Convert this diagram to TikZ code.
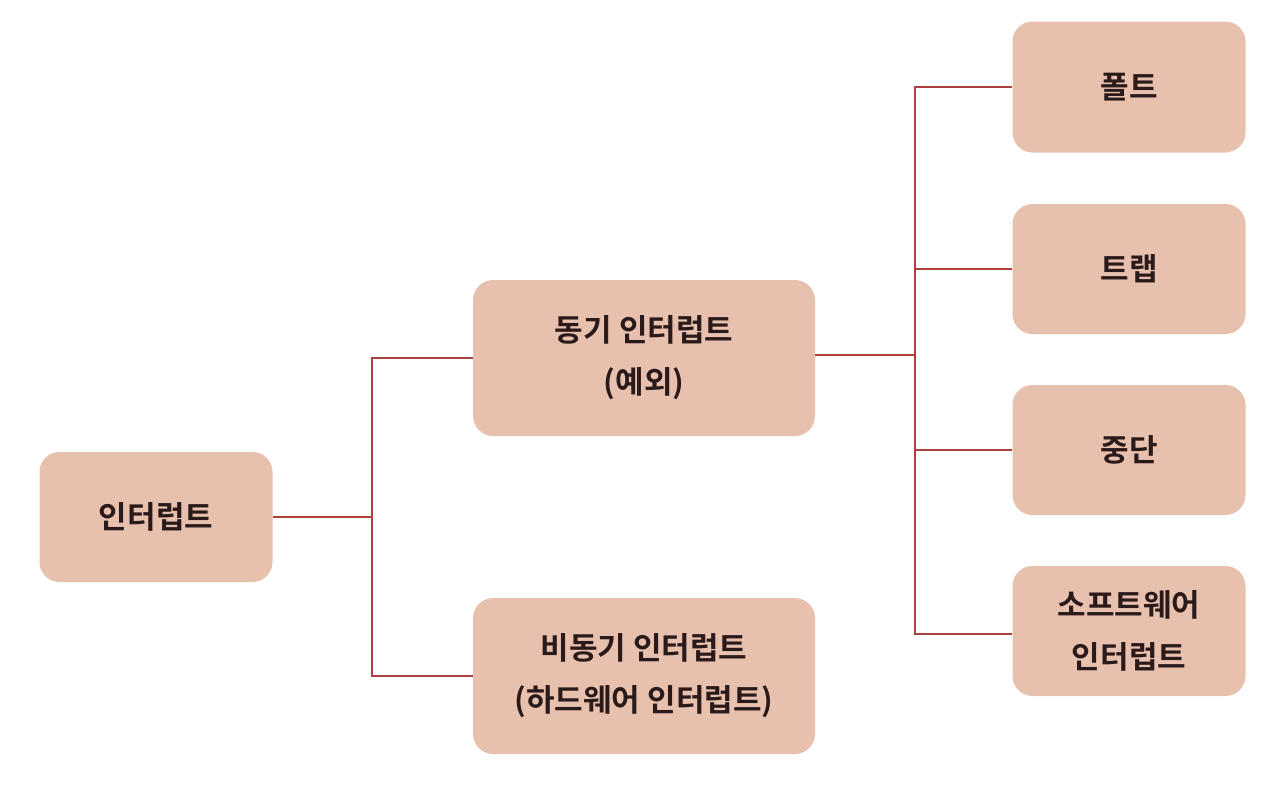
\documentclass[tikz,border=0pt]{standalone}
\usepackage{fontspec}
\setmainfont{Noto Sans CJK KR}[BoldFont={* Bold}]
\definecolor{boxfill}{HTML}{E8C0AE}
\definecolor{linecol}{HTML}{B0403E}
\definecolor{txt}{HTML}{2A1A1A}
\begin{document}
\begin{tikzpicture}[x=1pt,y=-1pt,
  box/.style={fill=boxfill, draw=none, rounded corners=20pt, text=txt,
    font=\fontsize{31}{52}\selectfont\bfseries, align=center, inner sep=0pt},
  conn/.style={draw=linecol, line width=1.3pt}]
\useasboundingbox (0,0) rectangle (1268,790);
\node[box, minimum width=233pt, minimum height=130pt] (root) at (156,517) {인터럽트};
\node[box, minimum width=342pt, minimum height=156pt] (sync) at (644,358) {동기 인터럽트\\(예외)};
\node[box, minimum width=342pt, minimum height=156pt] (async) at (644,676) {비동기 인터럽트\\(하드웨어 인터럽트)};
\node[box, minimum width=233pt, minimum height=131pt] (fault) at (1129,87) {폴트};
\node[box, minimum width=233pt, minimum height=130pt] (trap) at (1129,269) {트랩};
\node[box, minimum width=233pt, minimum height=130pt] (abort) at (1129,450) {중단};
\node[box, minimum width=233pt, minimum height=130pt] (soft) at (1129,631) {소프트웨어\\인터럽트};
\coordinate (j1) at (372,517);
\coordinate (j2) at (915,355);
\coordinate (s) at ([yshift=-3pt]soft.west);
\draw[conn] (root.east) -- (j1);
\draw[conn] (sync.west) -| (j1) |- (async.west);
\draw[conn] (sync.east |- j2) -- (j2);
\draw[conn] (fault.west) -| (j2) |- (s);
\draw[conn] (j2 |- trap.west) -- (trap.west);
\draw[conn] (j2 |- abort.west) -- (abort.west);
\end{tikzpicture}
\end{document}
